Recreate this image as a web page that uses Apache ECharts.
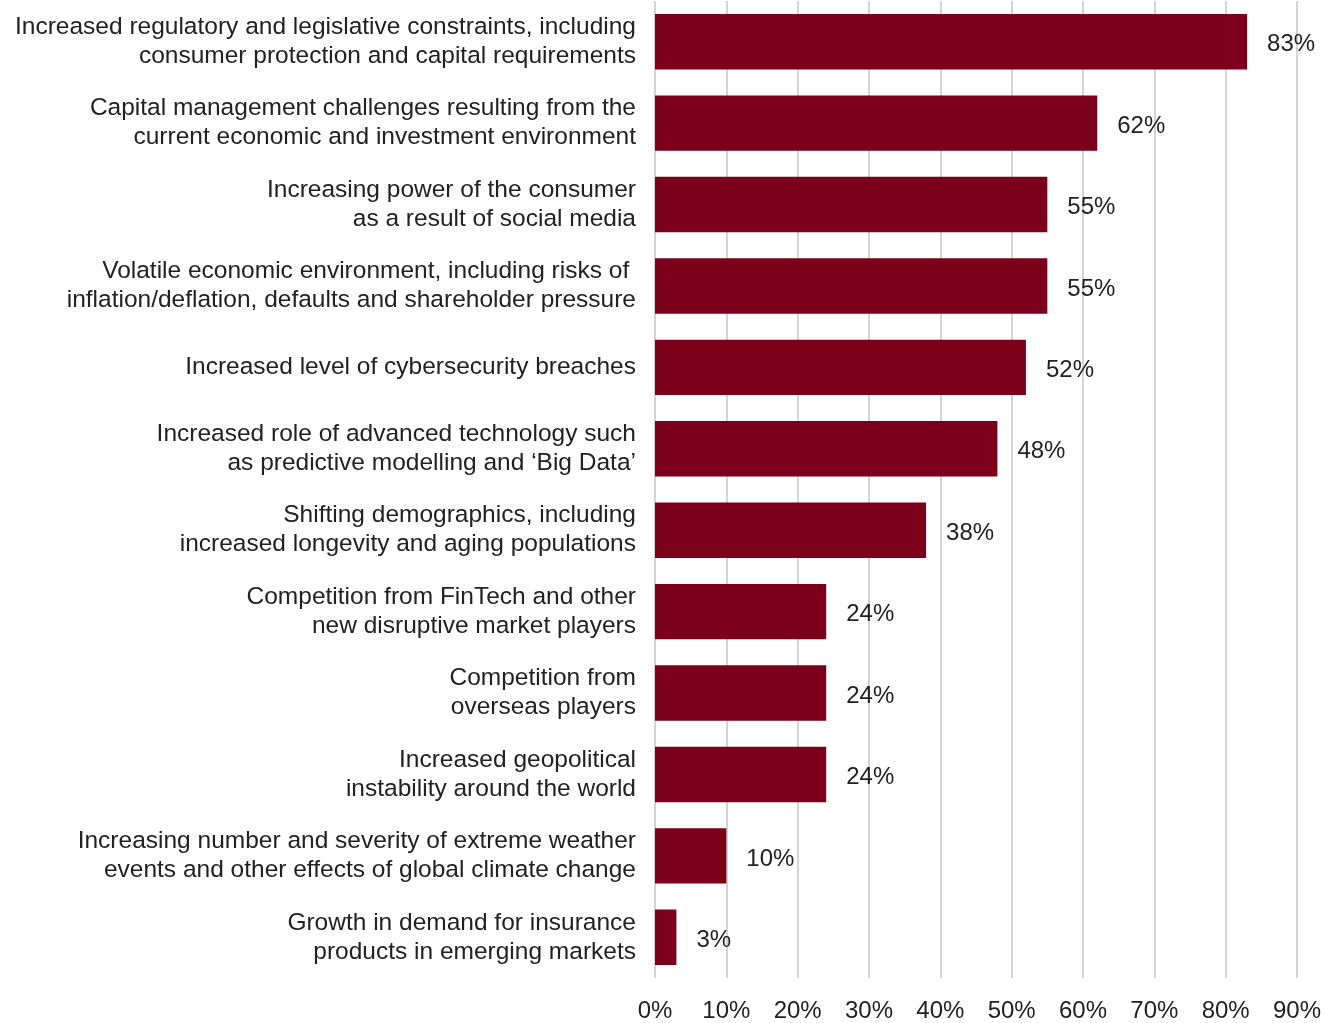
<!DOCTYPE html>
<html>
<head>
<meta charset="utf-8">
<script src="https://cdn.jsdelivr.net/npm/echarts@6/dist/echarts.min.js"></script>
<style>
  html, body { margin: 0; padding: 0; background: #fff; }
  #chart { width: 1327px; height: 1023px; }
</style>
</head>
<body>
<div id="chart"></div>
<script>
const categories = [
  'Increased regulatory and legislative constraints, including\nconsumer protection and capital requirements',
  'Capital management challenges resulting from the\ncurrent economic and investment environment',
  'Increasing power of the consumer\nas a result of social media',
  'Volatile economic environment, including risks of \ninflation/deflation, defaults and shareholder pressure',
  'Increased level of cybersecurity breaches',
  'Increased role of advanced technology such\nas predictive modelling and \u2018Big Data\u2019',
  'Shifting demographics, including\nincreased longevity and aging populations',
  'Competition from FinTech and other\nnew disruptive market players',
  'Competition from\noverseas players',
  'Increased geopolitical\ninstability around the world',
  'Increasing number and severity of extreme weather\nevents and other effects of global climate change',
  'Growth in demand for insurance\nproducts in emerging markets'
];
const values = [83, 62, 55, 55, 52, 48, 38, 24, 24, 24, 10, 3];
const axisMax = 90;
const axisStep = 10;

const chart = echarts.init(document.getElementById('chart'));
const font = '"Liberation Sans", Arial, Helvetica, sans-serif';
chart.setOption({
  animation: false,
  grid: { left: 655, right: 30, top: 1, bottom: 45, containLabel: false },
  xAxis: {
    type: 'value',
    min: 0,
    max: axisMax,
    interval: axisStep,
    axisLine: { show: false },
    axisTick: { show: false },
    splitLine: { show: true, lineStyle: { color: '#d4d4d4', width: 2 } },
    axisLabel: {
      formatter: v => v + '%',
      color: '#222',
      fontFamily: font,
      fontSize: 24,
      margin: 21
    }
  },
  yAxis: {
    type: 'category',
    data: categories,
    inverse: true,
    axisLine: { show: false },
    axisTick: { show: false },
    splitLine: { show: false },
    axisLabel: {
      color: '#222',
      fontFamily: font,
      fontSize: 24.5,
      lineHeight: 29,
      align: 'right',
      margin: 19
    }
  },
  series: [{
    type: 'bar',
    data: values,
    barCategoryGap: '32%',
    itemStyle: { color: '#7c0019' },
    label: {
      show: true,
      position: 'right',
      distance: 20,
      offset: [0, 3],
      formatter: p => p.value + '%',
      color: '#222',
      fontFamily: font,
      fontSize: 24
    }
  }]
});
</script>
</body>
</html>
